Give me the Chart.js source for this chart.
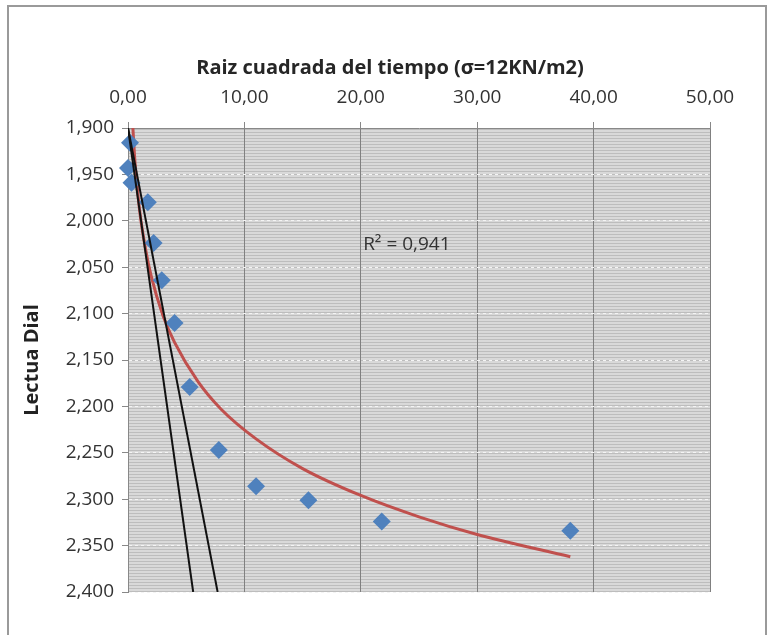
<!DOCTYPE html>
<html>
<head>
<meta charset="utf-8">
<script src="https://cdn.jsdelivr.net/npm/chart.js@4/dist/chart.umd.min.js"></script>
<style>
  html, body { margin: 0; padding: 0; background: #fff; overflow: hidden; }
  #wrap { position: relative; width: 769px; height: 635px; }
  #frame { position: absolute; left: 7px; top: 5px; width: 756px; height: 640px; border: 2px solid #9a9a9a; }
  canvas { position: absolute; left: 0; top: 0; }
</style>
</head>
<body>
<div id="wrap">
  <div id="frame"></div>
  <canvas id="chart" width="769" height="635"></canvas>
</div>
<script>
// lecturas del dial vs raiz del tiempo
const sqrtTime = [0.17, 0.0, 0.3, 1.7, 2.2, 2.9, 4.0, 5.3, 7.8, 11.0, 15.5, 21.8, 38.0]
const dialReading = [1.916, 1.943, 1.959, 1.980, 2.024, 2.064, 2.110, 2.179, 2.247, 2.286, 2.301, 2.324, 2.334]

// curva de tendencia logaritmica
const trendX = [0.42, 0.6, 1, 1.5, 2, 3, 4, 6, 8, 11, 15, 20, 25, 30, 38]
const trendY = [1.900, 1.937, 1.989, 2.030, 2.060, 2.102, 2.131, 2.173, 2.203, 2.235, 2.267, 2.296, 2.319, 2.338, 2.362]

// rectas tangentes
const tangentA = [[0, 1.900], [5.6, 2.400]]
const tangentB = [[0, 1.900], [7.7, 2.400]]

const xTitle = 'Raiz cuadrada del tiempo (σ=12KN/m2)'
const yTitle = 'Lectua Dial'
const r2Label = 'R² = 0,941'
const r2Pos = [20.2, 2.026]

const FONT = "'Open Sans', 'Noto Sans', sans-serif"
const comma = (v, d) => v.toFixed(d).replace('.', ',')

function hatch() {
  const c = document.createElement('canvas')
  c.width = 4
  c.height = 3
  const g = c.getContext('2d')
  g.fillStyle = '#d9d9d9'
  g.fillRect(0, 0, 4, 3)
  g.fillStyle = '#bdbdbd'
  g.fillRect(0, 0, 4, 1)
  return g.createPattern(c, 'repeat')
}

const plotBg = {
  id: 'plotBg',
  beforeDraw(chart) {
    const { ctx, chartArea: a } = chart
    ctx.save()
    ctx.fillStyle = hatch()
    ctx.fillRect(a.left, a.top, a.right - a.left, a.bottom - a.top)
    ctx.restore()
  },
}

// textos: titulo del eje x (desplazado como en Excel), R2
const texts = {
  id: 'texts',
  afterDraw(chart) {
    const { ctx, scales } = chart
    ctx.save()
    ctx.fillStyle = '#262626'
    ctx.textAlign = 'center'
    ctx.textBaseline = 'middle'
    ctx.font = 'bold 20px ' + FONT
    ctx.fillText(xTitle, 390, 68)
    ctx.font = '19px ' + FONT
    ctx.fillStyle = '#333'
    ctx.textAlign = 'left'
    ctx.fillText(r2Label, scales.x.getPixelForValue(r2Pos[0]), scales.y.getPixelForValue(r2Pos[1]))
    ctx.restore()
  },
}

const toPts = (xs, ys) => xs.map((x, i) => ({ x, y: ys[i] }))
const pairPts = (arr) => arr.map(([x, y]) => ({ x, y }))

new Chart(document.getElementById('chart'), {
  type: 'scatter',
  data: {
    datasets: [
      {
        label: 'tangente 1',
        type: 'line',
        data: pairPts(tangentA),
        borderColor: '#111',
        borderWidth: 2,
        pointRadius: 0,
        fill: false,
      },
      {
        label: 'tangente 2',
        type: 'line',
        data: pairPts(tangentB),
        borderColor: '#111',
        borderWidth: 2,
        pointRadius: 0,
        fill: false,
      },
      {
        label: 'Lectura',
        data: toPts(sqrtTime, dialReading),
        pointStyle: 'rectRot',
        pointRadius: 9,
        backgroundColor: '#4f81bd',
        borderColor: '#4f81bd',
        borderWidth: 0,
        clip: false,
      },
      {
        label: 'Log',
        type: 'line',
        data: toPts(trendX, trendY),
        borderColor: '#c0504d',
        borderWidth: 3,
        pointRadius: 0,
        cubicInterpolationMode: 'monotone',
        fill: false,
      },
    ],
  },
  options: {
    responsive: false,
    animation: false,
    layout: { padding: { left: 0, top: 0, right: 59, bottom: 43 } },
    plugins: { legend: { display: false }, tooltip: { enabled: false } },
    scales: {
      x: {
        type: 'linear',
        position: 'top',
        min: 0,
        max: 50,
        ticks: {
          stepSize: 10,
          padding: 13,
          color: '#333',
          font: { family: FONT, size: 19 },
          callback: (v) => comma(v, 2),
        },
        grid: { color: '#808080', tickColor: '#888', tickLength: 6, lineWidth: 1 },
        border: { color: '#888' },
        afterFit(s) { s.height = 128 },
      },
      y: {
        type: 'linear',
        reverse: true,
        min: 1.9,
        max: 2.4,
        ticks: {
          stepSize: 0.05,
          padding: 8,
          color: '#333',
          font: { family: FONT, size: 19 },
          callback: (v) => comma(v, 3),
        },
        grid: { color: '#f4f4f4', tickColor: '#888', tickLength: 6, lineWidth: 1 },
        border: { color: '#888', dash: [3, 3] },
        title: {
          display: true,
          text: yTitle,
          color: '#222',
          font: { family: FONT, size: 20, weight: 'bold' },
          padding: { top: 20, bottom: 0 },
        },
        afterFit(s) { s.width = 128 },
      },
    },
  },
  plugins: [plotBg, texts],
})
</script>
</body>
</html>
